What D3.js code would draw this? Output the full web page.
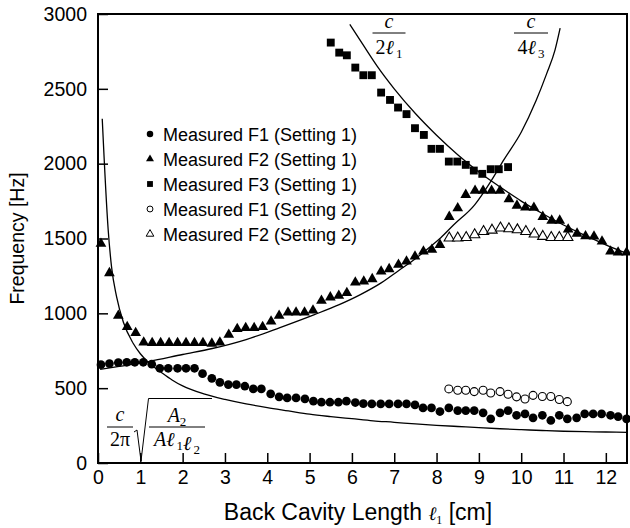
<!DOCTYPE html>
<html>
<head>
<meta charset="utf-8">
<script src="https://cdn.jsdelivr.net/npm/d3@7"></script>
<style>
  body { margin: 0; background: #fff; }
  svg { display: block; }
</style>
</head>
<body>
<div id="chart"></div>
<script>
// measured formants, setting 1
const f1Set1 = [[0.07,657],[0.27,664],[0.48,671],[0.68,673],[0.87,673],[1.07,673],[1.27,660],[1.46,633],[1.66,633],[1.88,633],[2.08,633],[2.28,633],[2.47,597],[2.69,566],[2.88,539],[3.08,524],[3.27,524],[3.47,513],[3.67,495],[3.86,495],[4.08,462],[4.28,442],[4.47,435],[4.68,435],[4.89,428],[5.09,413],[5.28,406],[5.48,406],[5.68,406],[5.87,413],[6.08,404],[6.27,397],[6.47,395],[6.68,395],[6.88,395],[7.09,395],[7.29,395],[7.49,388],[7.68,368],[7.88,368],[8.08,344],[8.29,368],[8.50,350],[8.69,350],[8.89,350],[9.10,335],[9.28,295],[9.50,335],[9.69,350],[9.89,319],[10.09,328],[10.28,302],[10.50,319],[10.70,284],[10.90,319],[11.09,295],[11.31,302],[11.50,328],[11.70,328],[11.90,328],[12.11,319],[12.29,310],[12.49,295]];
const f2Set1 = [[0.07,1465],[0.27,1269],[0.48,984],[0.69,909],[0.89,869],[1.08,806],[1.28,802],[1.48,802],[1.68,802],[1.88,802],[2.08,802],[2.28,802],[2.48,802],[2.69,798],[2.88,806],[3.09,858],[3.29,896],[3.49,902],[3.69,902],[3.89,909],[4.09,946],[4.28,984],[4.49,1006],[4.68,1006],[4.88,1006],[5.08,1020],[5.28,1085],[5.49,1107],[5.69,1118],[5.88,1136],[6.08,1207],[6.28,1213],[6.48,1229],[6.69,1280],[6.88,1296],[7.10,1325],[7.29,1347],[7.49,1380],[7.69,1414],[7.89,1425],[8.08,1458],[8.30,1645],[8.50,1703],[8.69,1792],[8.91,1819],[9.10,1819],[9.30,1819],[9.50,1819],[9.71,1763],[9.90,1720],[10.10,1708],[10.30,1706],[10.51,1645],[10.72,1620],[10.91,1620],[11.11,1560],[11.32,1533],[11.52,1516],[11.72,1514],[11.91,1480],[12.11,1414],[12.29,1407],[12.49,1407]];
const f3Set1 = [[5.50,2809],[5.70,2742],[5.88,2724],[6.08,2642],[6.27,2591],[6.47,2591],[6.69,2475],[6.90,2426],[7.09,2375],[7.29,2331],[7.49,2237],[7.70,2192],[7.88,2099],[8.08,2099],[8.29,2014],[8.49,2014],[8.69,1992],[8.88,1954],[9.08,1932],[9.28,1963],[9.47,1963],[9.69,1977]];

// measured formants, setting 2
const f1Set2 = [[8.29,495],[8.50,486],[8.69,486],[8.89,477],[9.10,486],[9.28,468],[9.50,477],[9.69,459],[9.89,442],[10.09,428],[10.28,452],[10.50,444],[10.70,444],[10.90,424],[11.09,410]];
const f2Set2 = [[8.30,1503],[8.50,1503],[8.70,1507],[8.90,1525],[9.11,1547],[9.31,1556],[9.51,1570],[9.71,1565],[9.91,1558],[10.11,1547],[10.31,1530],[10.51,1514],[10.71,1507],[10.90,1507],[11.10,1507]];

// theory curves
const helmholtz = [[0.10,2300],[0.24,1560],[0.32,1310],[0.44,1110],[0.60,940],[0.83,800],[1.0,730],[1.2,670],[1.5,605],[1.75,555],[2.0,515],[2.5,462],[3.0,425],[3.5,395],[4.0,370],[4.5,348],[5.0,326],[5.5,310],[6.0,296],[6.5,282],[7.0,272],[7.5,261],[8.0,252],[8.5,244],[9.0,236],[9.5,229],[10.0,223],[10.5,217],[11.0,212],[11.5,209],[12.0,207],[12.5,205]];
const quarterWave = [[0.05,625],[0.5,645],[1.2,678],[2.0,725],[2.7,765],[3.5,825],[4.3,905],[5.1,990],[5.7,1058],[6.2,1125],[6.7,1205],[7.1,1285],[7.5,1365],[7.85,1445],[8.1,1505],[8.4,1590],[8.9,1725],[9.3,1890],[9.6,2030],[10.0,2210],[10.35,2420],[10.6,2600],[10.8,2760],[10.92,2905]];
const halfWave = [[5.95,2930],[6.25,2800],[6.6,2650],[7.0,2500],[7.5,2335],[8.0,2190],[8.5,2060],[9.0,1945],[9.5,1845],[10.0,1750],[10.5,1667],[11.0,1590],[11.5,1522],[12.0,1458],[12.5,1400]];

const xTicks = [0,1,2,3,4,5,6,7,8,9,10,11,12];
const yTicks = [0,500,1000,1500,2000,2500,3000];
const legendLabels = ["Measured F1 (Setting 1)","Measured F2 (Setting 1)","Measured F3 (Setting 1)","Measured F1 (Setting 2)","Measured F2 (Setting 2)"];

const width = 630, height = 528;
const margin = {top: 14, right: 3, bottom: 65, left: 98};
const sans = "'Liberation Sans', Arial, sans-serif";
const serif = "'Liberation Serif', 'Times New Roman', serif";

const svg = d3.select("#chart").append("svg")
  .attr("width", width)
  .attr("height", height);

const x = d3.scaleLinear().domain([0, 12.5]).range([margin.left, width - margin.right]);
const y = d3.scaleLinear().domain([0, 3000]).range([height - margin.bottom, margin.top]);

// axes with inward ticks
const xAxis = svg.append("g")
  .attr("transform", `translate(0,${y(0)})`)
  .call(d3.axisBottom(x).tickValues(xTicks).tickFormat(d3.format("d"))
    .tickSizeInner(-10).tickSizeOuter(0).tickPadding(6));
const yAxis = svg.append("g")
  .attr("transform", `translate(${x(0)},0)`)
  .call(d3.axisLeft(y).tickValues(yTicks).tickFormat(d3.format("d"))
    .tickSizeInner(-10).tickSizeOuter(0).tickPadding(11));

[xAxis, yAxis].forEach(g => {
  g.select(".domain").remove();
  g.selectAll(".tick line").attr("stroke", "#000").attr("stroke-width", 1.5);
  g.selectAll(".tick text").attr("fill", "#000")
    .style("font-family", sans).style("font-size", "19.5px");
});
xAxis.selectAll(".tick text").attr("dy", "0.75em");

// frame
svg.append("rect")
  .attr("x", x(0)).attr("y", y(3000))
  .attr("width", x(12.5) - x(0)).attr("height", y(0) - y(3000))
  .attr("fill", "none").attr("stroke", "#000").attr("stroke-width", 2);

// theory curves
const line = d3.line().x(d => x(d[0])).y(d => y(d[1])).curve(d3.curveMonotoneX);
[helmholtz, quarterWave, halfWave].forEach(c => {
  svg.append("path").datum(c)
    .attr("d", line)
    .attr("fill", "none").attr("stroke", "#000").attr("stroke-width", 1.3);
});

// markers
const markers = [
  {data: f1Set1, type: d3.symbolCircle, size: 60, filled: true},
  {data: f2Set1, type: d3.symbolTriangle, size: 50, filled: true},
  {data: f3Set1, type: d3.symbolSquare, size: 62, filled: true},
  {data: f1Set2, type: d3.symbolCircle, size: 50, filled: false},
  {data: f2Set2, type: d3.symbolTriangle, size: 46, filled: false}
];

markers.forEach(m => {
  svg.append("g").selectAll("path")
    .data(m.data)
    .join("path")
    .attr("transform", d => `translate(${x(d[0])},${y(d[1])})`)
    .attr("d", d3.symbol().type(m.type).size(m.size))
    .attr("fill", m.filled ? "#000" : "#fff")
    .attr("stroke", "#000")
    .attr("stroke-width", m.filled ? 0 : 1.1);
});

// legend
const legend = svg.append("g").attr("transform", "translate(150,134)");
legendLabels.forEach((label, i) => {
  const m = markers[i];
  const row = legend.append("g").attr("transform", `translate(0,${i * 25})`);
  row.append("path")
    .attr("d", d3.symbol().type(m.type).size(m.size * 0.55))
    .attr("fill", m.filled ? "#000" : "#fff")
    .attr("stroke", "#000")
    .attr("stroke-width", m.filled ? 0 : 1);
  row.append("text")
    .attr("x", 13).attr("y", 6.5)
    .style("font-family", sans).style("font-size", "18px")
    .text(label);
});

// axis titles
svg.append("text")
  .attr("transform", `translate(24,${(y(0) + y(3000)) / 2}) rotate(-90)`)
  .attr("text-anchor", "middle")
  .style("font-family", sans).style("font-size", "19.5px")
  .text("Frequency [Hz]");

const xTitle = svg.append("text")
  .attr("x", 358).attr("y", 520)
  .attr("text-anchor", "middle")
  .style("font-family", sans).style("font-size", "23px");
xTitle.append("tspan").text("Back Cavity Length ");
xTitle.append("tspan").style("font-family", serif).style("font-style", "italic").style("font-size", "19px").text("\u2113");
xTitle.append("tspan").attr("dy", 4).style("font-family", serif).style("font-size", "12px").text("1");
xTitle.append("tspan").attr("dy", -4).text(" [cm]");

// fraction helper for math labels
function fraction(cx, numY, lineY, denY, num, den, w) {
  const g = svg.append("g").style("font-family", serif).style("font-size", "20px");
  const n = g.append("text").attr("x", cx).attr("y", numY).attr("text-anchor", "middle");
  num(n);
  g.append("line").attr("x1", cx - w / 2).attr("x2", cx + w / 2)
    .attr("y1", lineY).attr("y2", lineY)
    .attr("stroke", "#000").attr("stroke-width", 1);
  const d = g.append("text").attr("x", cx).attr("y", denY).attr("text-anchor", "middle");
  den(d);
}

const ell = (t, sub) => {
  t.append("tspan").style("font-style", "italic").text("\u2113");
  t.append("tspan").attr("dx", 2).attr("dy", 4).style("font-size", "13px").text(sub);
  t.append("tspan").attr("dy", -4).text("");
};

fraction(389, 28, 33, 54, t => t.append("tspan").style("font-style", "italic").text("c"),
  t => { t.append("tspan").text("2"); ell(t, "1"); }, 33);
fraction(531, 28, 33, 54, t => t.append("tspan").style("font-style", "italic").text("c"),
  t => { t.append("tspan").text("4"); ell(t, "3"); }, 34);

// Helmholtz formula label
fraction(120, 421, 427, 446, t => t.append("tspan").style("font-style", "italic").text("c"),
  t => t.append("tspan").text("2\u03c0"), 26);
svg.append("path")
  .attr("d", "M134,432 L137,430 L141,461 L148.5,398.5 L212,398.5")
  .attr("fill", "none").attr("stroke", "#000").attr("stroke-width", 1);
fraction(177, 422, 427, 446, t => {
    t.append("tspan").style("font-style", "italic").text("A");
    t.append("tspan").attr("dy", 4).style("font-size", "13px").text("2");
  },
  t => {
    t.append("tspan").style("font-style", "italic").text("A");
    ell(t, "1");
    ell(t, "2");
  }, 56);
</script>
</body>
</html>
